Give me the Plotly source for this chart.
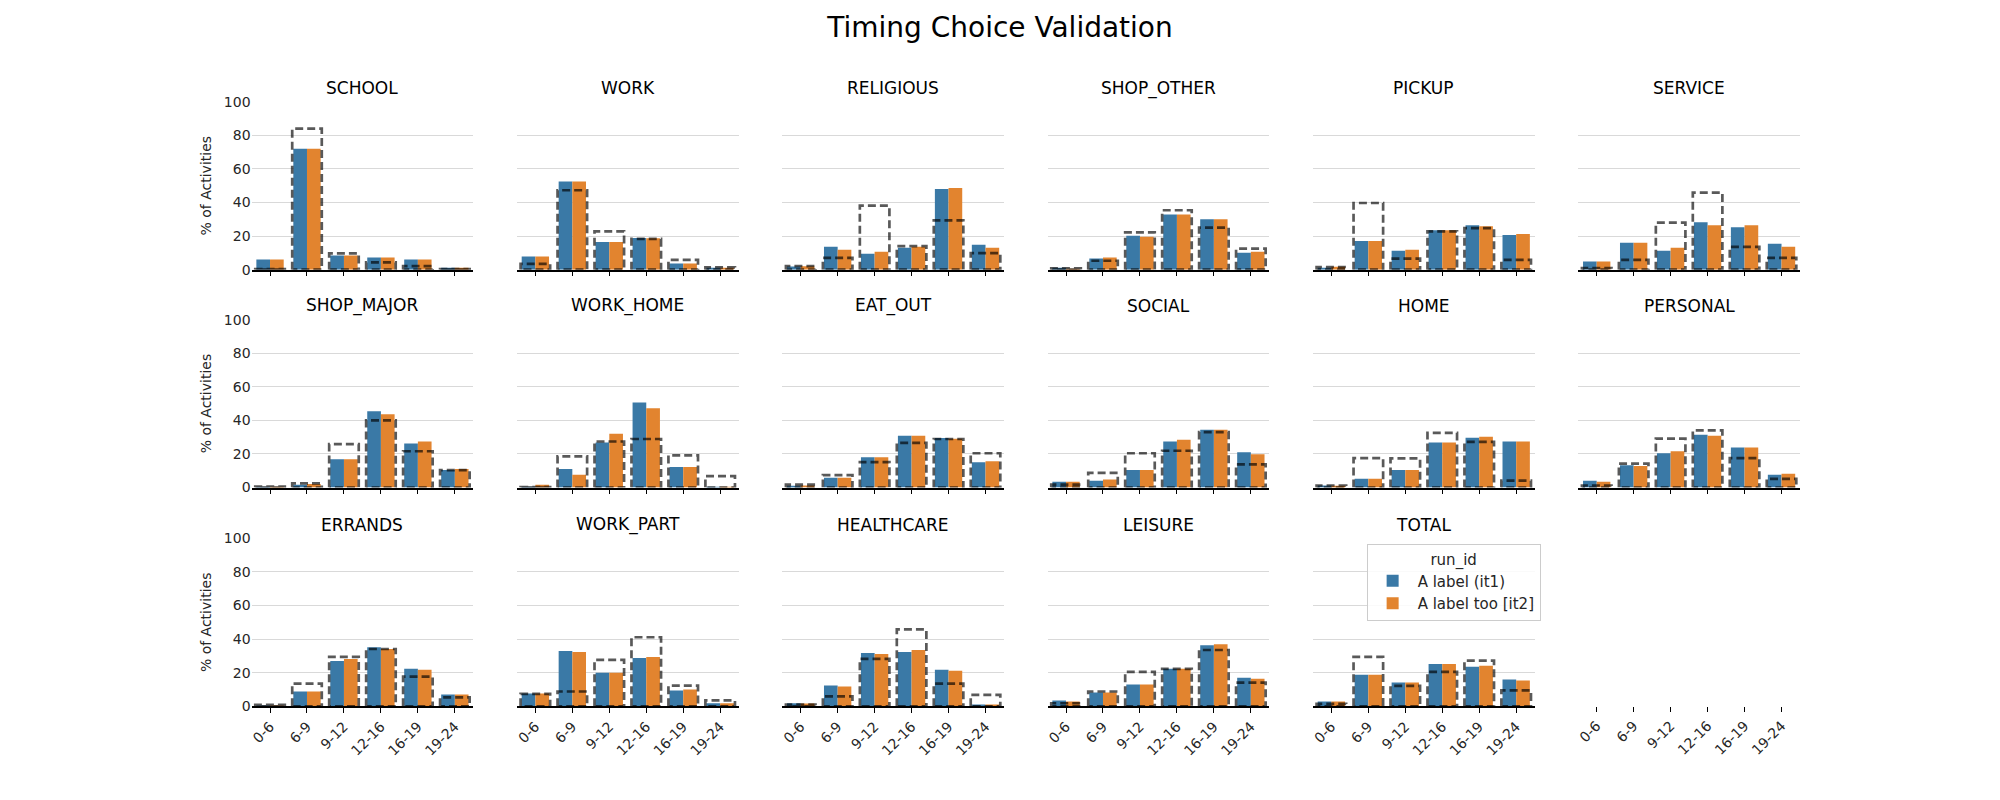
import plotly.graph_objects as go

categories = ["0-6", "6-9", "9-12", "12-16", "16-19", "19-24"]
panels = ["SCHOOL", "WORK", "RELIGIOUS", "SHOP_OTHER", "PICKUP", "SERVICE",
          "SHOP_MAJOR", "WORK_HOME", "EAT_OUT", "SOCIAL", "HOME", "PERSONAL",
          "ERRANDS", "WORK_PART", "HEALTHCARE", "LEISURE", "TOTAL"]
series_names = ["A label (it1)", "A label too [it2]"]
y_ticks = [0, 20, 40, 60, 80, 100]

school_it1 = [6.0, 72.0, 8.4, 7.2, 6.0, 0.8]
school_it2 = [6.0, 72.0, 8.4, 7.2, 6.0, 0.8]
school_target = [0.4, 84.0, 9.7, 4.3, 2.1, 0.4]
work_it1 = [7.8, 52.5, 16.5, 18.9, 3.7, 0.8]
work_it2 = [7.8, 52.5, 16.5, 18.7, 3.7, 0.8]
work_target = [3.5, 47.3, 22.8, 18.3, 5.8, 1.4]
religious_it1 = [1.9, 13.6, 9.5, 13.0, 48.1, 14.8]
religious_it2 = [2.1, 11.9, 10.7, 13.6, 48.6, 13.0]
religious_target = [2.1, 7.0, 38.1, 14.0, 29.4, 9.9]
shop_other_it1 = [0.6, 6.6, 20.2, 32.9, 30.0, 10.1]
shop_other_it2 = [0.4, 7.2, 19.6, 32.9, 30.0, 10.7]
shop_other_target = [0.8, 5.3, 22.2, 35.4, 25.1, 12.5]
pickup_it1 = [1.2, 17.1, 11.3, 23.5, 26.5, 20.6]
pickup_it2 = [1.8, 17.1, 11.9, 23.5, 25.9, 21.2]
pickup_target = [1.6, 39.7, 6.6, 22.8, 24.7, 5.8]
service_it1 = [4.9, 16.0, 11.3, 28.2, 25.3, 15.4]
service_it2 = [4.9, 16.0, 13.0, 26.5, 26.5, 13.6]
service_target = [1.0, 5.8, 28.0, 45.9, 13.6, 7.0]
shop_major_it1 = [0.4, 1.7, 16.9, 45.4, 26.2, 10.5]
shop_major_it2 = [0.4, 2.1, 16.9, 43.7, 27.4, 11.1]
shop_major_target = [0.6, 2.5, 25.8, 40.0, 21.6, 10.3]
work_home_it1 = [0.2, 11.1, 26.8, 50.7, 12.2, 0.1]
work_home_it2 = [1.7, 7.6, 32.0, 47.2, 12.2, 0.1]
work_home_target = [0.2, 18.6, 27.4, 28.9, 19.2, 6.8]
eat_out_it1 = [1.0, 5.8, 18.1, 30.9, 29.5, 15.1]
eat_out_it2 = [1.2, 5.8, 18.1, 30.9, 29.1, 15.7]
eat_out_target = [1.7, 7.4, 15.1, 26.6, 28.9, 20.4]
social_it1 = [3.5, 4.1, 10.5, 27.4, 34.4, 21.0]
social_it2 = [3.5, 4.7, 10.5, 28.5, 34.4, 19.8]
social_target = [1.7, 8.7, 20.4, 21.9, 33.0, 13.8]
home_it1 = [1.2, 5.2, 10.5, 26.8, 29.7, 27.4]
home_it2 = [0.8, 5.2, 10.5, 26.8, 30.3, 27.4]
home_target = [1.2, 17.5, 17.3, 32.6, 27.2, 4.1]
personal_it1 = [4.1, 13.2, 20.4, 31.5, 23.9, 7.6]
personal_it2 = [3.5, 12.8, 21.6, 30.9, 23.9, 8.2]
personal_target = [1.2, 14.2, 29.1, 34.0, 17.5, 5.2]
errands_it1 = [0.3, 8.8, 27.0, 35.2, 22.3, 7.0]
errands_it2 = [0.3, 8.8, 28.2, 34.1, 21.7, 7.0]
errands_target = [0.8, 13.5, 29.4, 34.1, 17.6, 5.3]
work_part_it1 = [7.6, 32.9, 20.0, 28.8, 9.4, 1.8]
work_part_it2 = [7.6, 32.3, 20.0, 29.4, 10.0, 1.8]
work_part_target = [7.4, 8.8, 27.6, 41.1, 12.3, 3.5]
healthcare_it1 = [1.8, 12.3, 31.7, 32.3, 21.7, 1.0]
healthcare_it2 = [1.6, 11.7, 31.1, 33.5, 21.1, 1.0]
healthcare_target = [1.0, 5.9, 28.2, 45.8, 13.5, 6.8]
leisure_it1 = [3.5, 8.2, 12.9, 22.3, 36.4, 17.0]
leisure_it2 = [2.9, 8.2, 12.9, 22.3, 37.0, 16.4]
leisure_target = [1.8, 8.8, 20.5, 22.3, 33.5, 14.1]
total_it1 = [2.9, 18.8, 14.1, 25.2, 23.5, 15.9]
total_it2 = [2.9, 18.8, 14.1, 25.2, 24.1, 15.3]
total_target = [1.4, 29.4, 12.1, 20.5, 27.2, 9.4]

it1 = [school_it1, work_it1, religious_it1, shop_other_it1, pickup_it1, service_it1,
       shop_major_it1, work_home_it1, eat_out_it1, social_it1, home_it1, personal_it1,
       errands_it1, work_part_it1, healthcare_it1, leisure_it1, total_it1]
it2 = [school_it2, work_it2, religious_it2, shop_other_it2, pickup_it2, service_it2,
       shop_major_it2, work_home_it2, eat_out_it2, social_it2, home_it2, personal_it2,
       errands_it2, work_part_it2, healthcare_it2, leisure_it2, total_it2]
target = [school_target, work_target, religious_target, shop_other_target, pickup_target,
          service_target, shop_major_target, work_home_target, eat_out_target,
          social_target, home_target, personal_target, errands_target, work_part_target,
          healthcare_target, leisure_target, total_target]

# ---- styling / layout ----
W, H = 2000, 800
BLUE = "#3a79a6"
ORANGE = "#e2842f"
TEXT = "#262626"
FONT = "DejaVu Sans"
col_left = [249.8 + 265.6 * c for c in range(6)]
col_w = 222.0
row_top = [95.7, 318.0, 541.2]
row_h = 171.3
bar_w = 0.37
tgt_half = 0.4

fig = go.Figure()
layout = dict(
    width=W, height=H, margin=dict(l=0, r=0, t=0, b=0),
    paper_bgcolor="white", plot_bgcolor="white",
    barmode="overlay",
    font=dict(family=FONT, color=TEXT, size=14),
    title=dict(text="Timing Choice Validation", x=0.5, xanchor="center",
               y=1 - 27 / H, yanchor="middle", font=dict(size=28, color="black")),
    showlegend=True,
    legend=dict(x=1366 / W, y=1 - 547 / H, xanchor="left", yanchor="top",
                bordercolor="#cccccc", borderwidth=1, bgcolor="rgba(255,255,255,0.85)",
                title=dict(text="run_id", side="top center", font=dict(size=15)),
                font=dict(size=15, color=TEXT), itemwidth=40, tracegroupgap=0),
)
annotations = []

for k in range(18):
    r, c = divmod(k, 6)
    n = k + 1
    xname = "x" if n == 1 else f"x{n}"
    yname = "y" if n == 1 else f"y{n}"
    xd = [col_left[c] / W, (col_left[c] + col_w) / W]
    yd = [1 - (row_top[r] + row_h) / H, 1 - row_top[r] / H]
    xpos = list(range(len(categories)))
    has_data = k < len(panels)
    layout["xaxis" if n == 1 else f"xaxis{n}"] = dict(
        domain=xd, anchor=yname, type="linear", range=[-0.5, 5.5],
        tickmode="array", tickvals=xpos, ticktext=categories,
        showticklabels=(r == 2), tickangle=-45, ticks="outside", ticklen=5,
        tickcolor="black", tickwidth=1.2,
        showline=has_data, linecolor="black", linewidth=1.5,
        showgrid=False, zeroline=False, fixedrange=True,
        tickfont=dict(size=14, color=TEXT))
    layout["yaxis" if n == 1 else f"yaxis{n}"] = dict(
        domain=yd, anchor=xname, range=[0, 100], tickmode="array", tickvals=y_ticks,
        showticklabels=(c == 0 and has_data), showgrid=has_data, gridcolor="#d9d9d9",
        gridwidth=1, zeroline=False, showline=False, ticks="",
        tickfont=dict(size=14, color=TEXT),
        title=dict(text="% of Activities" if (c == 0) else "", font=dict(size=14),
                   standoff=8))
    if not has_data:
        fig.add_trace(go.Scatter(x=[], y=[], xaxis=xname, yaxis=yname, showlegend=False))
        continue
    fig.add_trace(go.Bar(x=xpos, y=it1[k], width=bar_w, offset=-bar_w,
                         marker=dict(color=BLUE, line=dict(width=0)),
                         name=series_names[0], showlegend=(k == 0),
                         xaxis=xname, yaxis=yname))
    fig.add_trace(go.Bar(x=xpos, y=it2[k], width=bar_w, offset=0,
                         marker=dict(color=ORANGE, line=dict(width=0)),
                         name=series_names[1], showlegend=(k == 0),
                         xaxis=xname, yaxis=yname))
    tx, ty = [], []
    for i, v in zip(xpos, target[k]):
        tx += [i - tgt_half, i - tgt_half, i + tgt_half, i + tgt_half, i - tgt_half, None]
        ty += [0, v, v, 0, 0, None]
    fig.add_trace(go.Scatter(x=tx, y=ty, mode="lines",
                             line=dict(color="rgba(0,0,0,0.65)", width=2.7, dash="8px,4px"),
                             showlegend=False, hoverinfo="skip",
                             xaxis=xname, yaxis=yname))
    annotations.append(dict(text=panels[k], xref="paper", yref="paper",
                            x=(xd[0] + xd[1]) / 2, y=1 - (row_top[r] - 14) / H,
                            xanchor="center", yanchor="middle", showarrow=False,
                            font=dict(size=17, color="black")))

layout["annotations"] = annotations
fig.update_layout(**layout)
fig.write_html("out.html")
